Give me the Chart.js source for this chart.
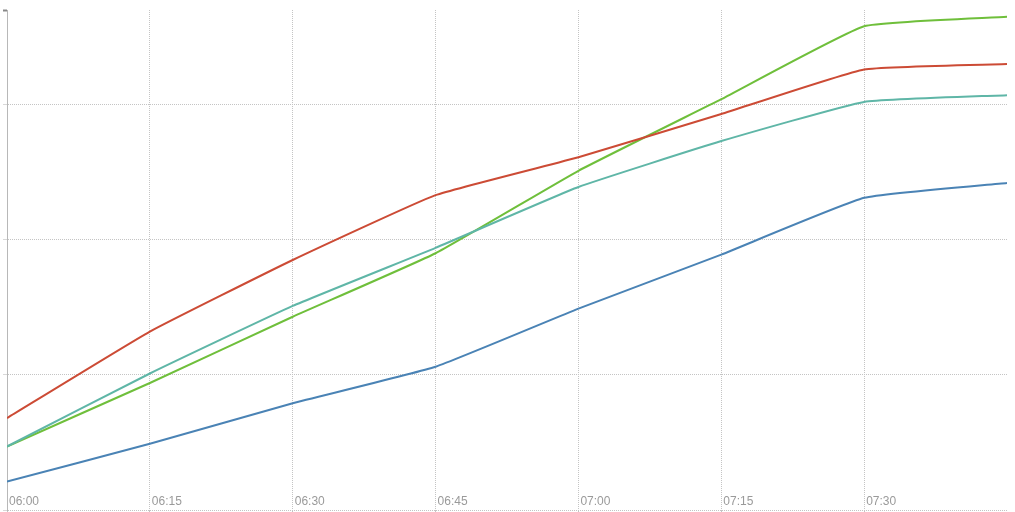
<!DOCTYPE html>
<html>
<head>
<meta charset="utf-8">
<script src="https://cdn.jsdelivr.net/npm/chart.js@4/dist/chart.umd.min.js"></script>
<style>
  html, body { margin: 0; padding: 0; background: #fff; }
  #wrap { width: 1015px; height: 512px; }
</style>
</head>
<body>
<div id="wrap"><canvas id="chart" width="1015" height="512"></canvas></div>
<script>
// minutes after 06:00
const minutes = [0, 15, 30, 45, 60, 75, 90, 105];
const yTicks = [0, 1, 2, 3, 3.7];

const blueValues = [0.21, 0.49, 0.79, 1.06, 1.49, 1.89, 2.31, 2.42];
const redValues = [0.68, 1.32, 1.85, 2.33, 2.61, 2.93, 3.26, 3.30];
const tealValues = [0.47, 1.01, 1.51, 1.94, 2.39, 2.73, 3.02, 3.07];
const greenValues = [0.47, 0.94, 1.43, 1.90, 2.51, 3.04, 3.58, 3.65];

Chart.defaults.font.family = "'Liberation Sans', Arial, sans-serif";

function toPoints(values) {
  return values.map((v, i) => ({ x: minutes[i], y: v }));
}

function fmtTime(m) {
  const total = 6 * 60 + m;
  const h = Math.floor(total / 60);
  const mm = total % 60;
  return String(h).padStart(2, "0") + ":" + String(mm).padStart(2, "0");
}

function makeSeries(label, values, color) {
  return {
    label: label,
    data: toPoints(values),
    borderColor: color,
    backgroundColor: color,
    borderWidth: 2,
    pointRadius: 0,
    fill: false,
    tension: 0.12,
  };
}

const yMax = yTicks[yTicks.length - 1];
const xMax = minutes[minutes.length - 1];

const ctx = document.getElementById("chart").getContext("2d");
new Chart(ctx, {
  type: "line",
  data: {
    datasets: [
      makeSeries("A", blueValues, "#4a83b5"),
      makeSeries("B", redValues, "#cc4b35"),
      makeSeries("C", tealValues, "#5fb6a7"),
      makeSeries("D", greenValues, "#6fbf3b"),
    ],
  },
  options: {
    responsive: false,
    animation: false,
    layout: { padding: { left: 3, right: 8, top: 10, bottom: 0 } },
    plugins: { legend: { display: false }, tooltip: { enabled: false } },
    scales: {
      x: {
        type: "linear",
        min: 0,
        max: xMax,
        afterBuildTicks: (scale) => {
          scale.ticks = minutes.filter((m) => m < xMax).map((m) => ({ value: m }));
        },
        afterFit: (scale) => {
          scale.height = 2;
        },
        border: { display: false, dash: [1, 1] },
        grid: {
          color: "#c4c4c4",
          tickLength: 2,
          tickColor: "#c4c4c4",
        },
        ticks: {
          mirror: true,
          align: "start",
          padding: 1,
          labelOffset: 2,
          color: "#9a9a9a",
          font: { size: 12 },
          maxRotation: 0,
          callback: (v) => fmtTime(v),
        },
      },
      y: {
        min: 0,
        max: yMax,
        afterBuildTicks: (scale) => {
          scale.ticks = yTicks.map((v) => ({ value: v }));
        },
        border: { display: true, color: "#b8b8b8", width: 1, dash: [1, 1] },
        grid: {
          color: (c) => (c.tick && c.tick.value === yMax ? "rgba(0,0,0,0)" : "#c4c4c4"),
          tickLength: 4,
          tickColor: (c) => (c.tick && c.tick.value === yMax ? "#888" : "#d8d8d8"),
          tickWidth: (c) => (c.tick && c.tick.value === yMax ? 2 : 1),
        },
        ticks: { display: false },
      },
    },
  },
});
</script>
</body>
</html>
